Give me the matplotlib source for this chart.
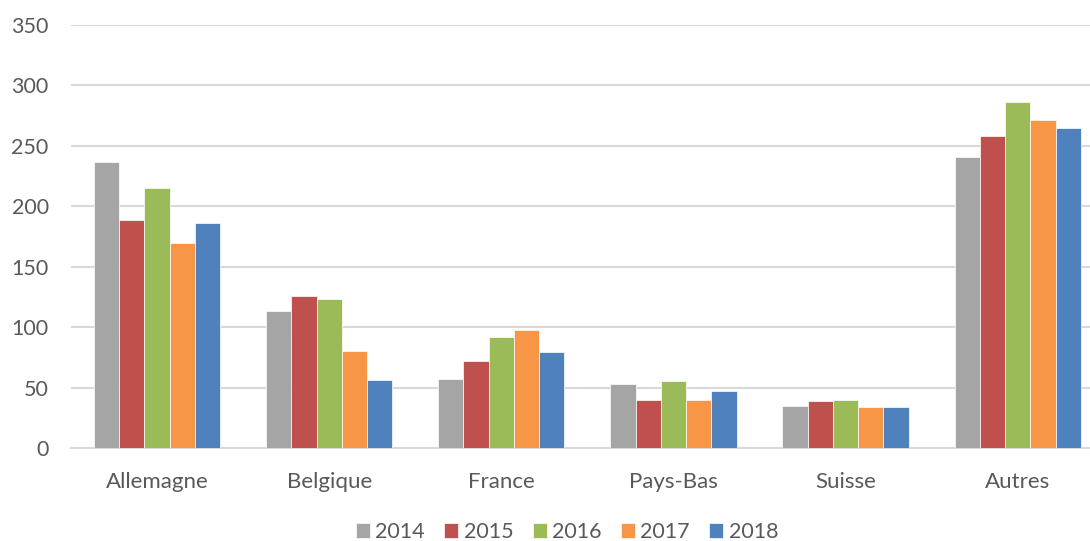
import numpy as np
import matplotlib.pyplot as plt

pays = ["Allemagne", "Belgique", "France", "Pays-Bas", "Suisse", "Autres"]
annees = ["2014", "2015", "2016", "2017", "2018"]

v2014 = [237, 113, 57, 53, 35, 241]
v2015 = [189, 126, 72, 40, 39, 258]
v2016 = [215, 123, 92, 55, 40, 286]
v2017 = [170, 80, 98, 40, 34, 271]
v2018 = [186, 56, 79, 47, 34, 265]

couleurs = ["#A5A5A5", "#C0504D", "#9BBB59", "#F79646", "#4F81BD"]

plt.rcParams['font.family'] = ['Lato', 'DejaVu Sans']
texte = "#595959"

fig = plt.figure(figsize=(10.9, 5.41), dpi=100)
ax = fig.add_axes([0.0651, 0.172, 0.9349, 0.7818])

series = [v2014, v2015, v2016, v2017, v2018]
x = np.arange(len(pays))
largeur = 0.733 / len(series)
for i, (vals, c, lab) in enumerate(zip(series, couleurs, annees)):
    ax.bar(x + (i - 2) * largeur, vals, largeur, color=c, label=lab,
           edgecolor="white", linewidth=0.5, zorder=3)

ax.set_ylim(0, 350)
ax.set_yticks(range(0, 351, 50))
ax.set_xlim(-0.5, 5.42)
ax.set_xticks(x)
ax.set_xticklabels(pays)
ax.grid(axis='y', color="#D9D9D9", linewidth=1.5, zorder=0)
for s in ["top", "right", "left"]:
    ax.spines[s].set_visible(False)
ax.spines["bottom"].set_color("#D9D9D9")
ax.spines["bottom"].set_linewidth(1.5)
ax.tick_params(axis='x', length=0, labelsize=16, labelcolor=texte, pad=17)
ax.tick_params(axis='y', length=0, labelsize=15.5, labelcolor=texte, pad=16)

fig.legend(loc="center", bbox_to_anchor=(567 / 1090, 1 - 532 / 541), ncol=5,
           frameon=False, fontsize=15.5, labelcolor=texte, handlelength=0.65,
           handleheight=0.65, handletextpad=0.25, columnspacing=0.9)

fig.savefig("out.png", dpi=100)
